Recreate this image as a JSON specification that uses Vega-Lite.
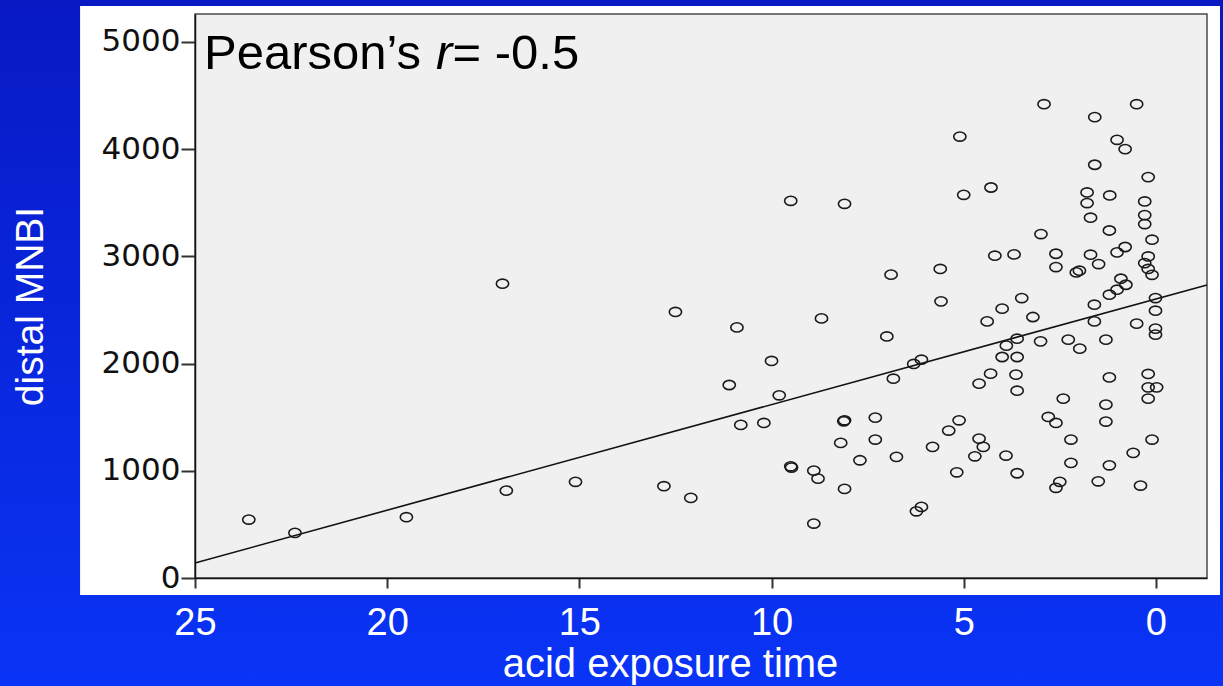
{
  "$schema": "https://vega.github.io/schema/vega-lite/v6.json",
  "width": 1012,
  "height": 564,
  "autosize": {"type": "none"},
  "padding": {"left": 195, "top": 14, "right": 16, "bottom": 108},
  "background": "#0a28e0",
  "config": {"view": {"stroke": null}},
  "resolve": {"axis": {"x": "independent", "y": "independent"}},
  "layer": [
    {
      "data": {"values": [{}]},
      "mark": {"type": "rect", "fill": {"gradient": "linear", "x1": 0, "y1": 0, "x2": 0, "y2": 1, "stops": [{"offset": 0, "color": "#0819c4"}, {"offset": 1, "color": "#0a34f6"}]}},
      "encoding": {
        "x": {"datum": 30.2, "type": "quantitative", "scale": {"domain": [-1.33, 25], "reverse": true, "nice": false, "zero": false}, "axis": null},
        "x2": {"datum": -1.8},
        "y": {"datum": -1010, "type": "quantitative", "scale": {"domain": [0, 5260], "nice": false, "zero": false}, "axis": null},
        "y2": {"datum": 5400}
      }
    },
    {
      "data": {"values": [{}]},
      "mark": {"type": "rect", "fill": "#ffffff"},
      "encoding": {
        "x": {"datum": 27.99, "type": "quantitative", "scale": {"domain": [-1.33, 25], "reverse": true, "nice": false, "zero": false}, "axis": null},
        "x2": {"datum": -1.668},
        "y": {"datum": -158, "type": "quantitative", "scale": {"domain": [0, 5260], "nice": false, "zero": false}, "axis": null},
        "y2": {"datum": 5335}
      }
    },
    {
      "data": {"values": [{}]},
      "mark": {"type": "rect", "fill": "#f0f0f0", "stroke": "#4a4a4a", "strokeWidth": 1.5},
      "encoding": {
        "x": {"datum": 25, "type": "quantitative", "scale": {"domain": [-1.33, 25], "reverse": true, "nice": false, "zero": false}, "axis": null},
        "x2": {"datum": -1.33},
        "y": {"datum": 0, "type": "quantitative", "scale": {"domain": [0, 5260], "nice": false, "zero": false}, "axis": null},
        "y2": {"datum": 5260}
      }
    },
    {
      "data": {"values": [{}]},
      "mark": {"type": "text", "text": "Pearson’s", "font": "Liberation Sans", "fontSize": 49, "color": "#000000", "align": "left", "baseline": "alphabetic"},
      "encoding": {
        "x": {"datum": 24.766, "type": "quantitative", "scale": {"domain": [-1.33, 25], "reverse": true, "nice": false, "zero": false}, "axis": null},
        "y": {"datum": 4745, "type": "quantitative", "scale": {"domain": [0, 5260], "nice": false, "zero": false}, "axis": null}
      }
    },
    {
      "data": {"values": [{}]},
      "mark": {"type": "text", "text": "r", "font": "Liberation Sans", "fontStyle": "italic", "fontSize": 49, "color": "#000000", "align": "left", "baseline": "alphabetic"},
      "encoding": {
        "x": {"datum": 18.73, "type": "quantitative", "scale": {"domain": [-1.33, 25], "reverse": true, "nice": false, "zero": false}, "axis": null},
        "y": {"datum": 4745, "type": "quantitative", "scale": {"domain": [0, 5260], "nice": false, "zero": false}, "axis": null}
      }
    },
    {
      "data": {"values": [{}]},
      "mark": {"type": "text", "text": "= -0.5", "font": "Liberation Sans", "fontSize": 49, "color": "#000000", "align": "left", "baseline": "alphabetic"},
      "encoding": {
        "x": {"datum": 18.30, "type": "quantitative", "scale": {"domain": [-1.33, 25], "reverse": true, "nice": false, "zero": false}, "axis": null},
        "y": {"datum": 4745, "type": "quantitative", "scale": {"domain": [0, 5260], "nice": false, "zero": false}, "axis": null}
      }
    },
    {
      "data": {"values": [{"aet": 25, "mnbi": 140}, {"aet": -1.33, "mnbi": 2733}]},
      "mark": {"type": "line", "color": "#111111", "strokeWidth": 1.6},
      "encoding": {
        "x": {"field": "aet", "type": "quantitative", "scale": {"domain": [-1.33, 25], "reverse": true, "nice": false, "zero": false}, "axis": null},
        "y": {"field": "mnbi", "type": "quantitative", "scale": {"domain": [0, 5260], "nice": false, "zero": false}, "axis": null}
      }
    },
    {
      "data": {"values": [
        {"aet": 23.6, "mnbi": 545}, {"aet": 22.4, "mnbi": 421}, {"aet": 19.5, "mnbi": 567}, {"aet": 17.0, "mnbi": 2745},
        {"aet": 16.9, "mnbi": 815}, {"aet": 15.1, "mnbi": 897},
        {"aet": 12.5, "mnbi": 2481}, {"aet": 10.9, "mnbi": 2337}, {"aet": 8.7, "mnbi": 2421}, {"aet": 7.0, "mnbi": 2253},
        {"aet": 10.0, "mnbi": 2024}, {"aet": 11.1, "mnbi": 1800}, {"aet": 9.8, "mnbi": 1704}, {"aet": 6.83, "mnbi": 1859},
        {"aet": 10.8, "mnbi": 1428}, {"aet": 10.2, "mnbi": 1446}, {"aet": 8.1, "mnbi": 1471}, {"aet": 8.12, "mnbi": 1462},
        {"aet": 7.3, "mnbi": 1496}, {"aet": 8.2, "mnbi": 1260}, {"aet": 7.3, "mnbi": 1291}, {"aet": 7.7, "mnbi": 1098},
        {"aet": 6.75, "mnbi": 1130}, {"aet": 9.5, "mnbi": 1042}, {"aet": 9.48, "mnbi": 1030}, {"aet": 8.9, "mnbi": 1002},
        {"aet": 8.79, "mnbi": 927}, {"aet": 8.1, "mnbi": 831}, {"aet": 12.8, "mnbi": 856}, {"aet": 12.1, "mnbi": 747},
        {"aet": 8.9, "mnbi": 508},
        {"aet": 9.5, "mnbi": 3518}, {"aet": 8.1, "mnbi": 3490}, {"aet": 6.89, "mnbi": 2829},
        {"aet": 6.1, "mnbi": 663}, {"aet": 6.23, "mnbi": 622},
        {"aet": 2.91, "mnbi": 4419}, {"aet": 0.5, "mnbi": 4419}, {"aet": 1.59, "mnbi": 4298}, {"aet": 5.1, "mnbi": 4117},
        {"aet": 1.01, "mnbi": 4087}, {"aet": 0.8, "mnbi": 4000}, {"aet": 1.59, "mnbi": 3854}, {"aet": 0.2, "mnbi": 3739},
        {"aet": 4.29, "mnbi": 3642}, {"aet": 5.0, "mnbi": 3574}, {"aet": 1.79, "mnbi": 3596}, {"aet": 1.2, "mnbi": 3568},
        {"aet": 1.79, "mnbi": 3497}, {"aet": 0.29, "mnbi": 3512}, {"aet": 0.29, "mnbi": 3385}, {"aet": 0.29, "mnbi": 3301},
        {"aet": 1.7, "mnbi": 3360}, {"aet": 1.21, "mnbi": 3241}, {"aet": 2.99, "mnbi": 3208}, {"aet": 0.1, "mnbi": 3155},
        {"aet": 0.8, "mnbi": 3087}, {"aet": 1.01, "mnbi": 3037}, {"aet": 4.19, "mnbi": 3006}, {"aet": 3.69, "mnbi": 3018},
        {"aet": 2.6, "mnbi": 3024}, {"aet": 1.7, "mnbi": 3015}, {"aet": 1.49, "mnbi": 2928}, {"aet": 2.6, "mnbi": 2900},
        {"aet": 2.07, "mnbi": 2850}, {"aet": 1.99, "mnbi": 2866}, {"aet": 0.2, "mnbi": 2999}, {"aet": 0.29, "mnbi": 2937},
        {"aet": 0.2, "mnbi": 2882}, {"aet": 0.1, "mnbi": 2828}, {"aet": 5.61, "mnbi": 2882}, {"aet": 0.91, "mnbi": 2791},
        {"aet": 0.78, "mnbi": 2735}, {"aet": 1.01, "mnbi": 2689}, {"aet": 1.21, "mnbi": 2642}, {"aet": 1.6, "mnbi": 2549},
        {"aet": 0.01, "mnbi": 2611}, {"aet": 0.01, "mnbi": 2493}, {"aet": 0.5, "mnbi": 2372}, {"aet": 1.6, "mnbi": 2393},
        {"aet": 0.01, "mnbi": 2326}, {"aet": 0.01, "mnbi": 2270},
        {"aet": 5.59, "mnbi": 2580}, {"aet": 4.0, "mnbi": 2512}, {"aet": 3.49, "mnbi": 2611}, {"aet": 4.39, "mnbi": 2393},
        {"aet": 3.2, "mnbi": 2434}, {"aet": 3.61, "mnbi": 2232}, {"aet": 3.89, "mnbi": 2167}, {"aet": 3.0, "mnbi": 2207},
        {"aet": 2.28, "mnbi": 2223}, {"aet": 1.98, "mnbi": 2139}, {"aet": 1.3, "mnbi": 2223}, {"aet": 4.0, "mnbi": 2061},
        {"aet": 3.61, "mnbi": 2061}, {"aet": 6.3, "mnbi": 1996}, {"aet": 6.1, "mnbi": 2036}, {"aet": 4.3, "mnbi": 1906},
        {"aet": 3.64, "mnbi": 1897}, {"aet": 4.6, "mnbi": 1813}, {"aet": 3.61, "mnbi": 1747}, {"aet": 1.21, "mnbi": 1871},
        {"aet": 0.2, "mnbi": 1903}, {"aet": 0.2, "mnbi": 1778}, {"aet": -0.02, "mnbi": 1778}, {"aet": 0.2, "mnbi": 1673},
        {"aet": 2.41, "mnbi": 1673}, {"aet": 1.3, "mnbi": 1617}, {"aet": 1.3, "mnbi": 1459}, {"aet": 2.8, "mnbi": 1502},
        {"aet": 2.6, "mnbi": 1446}, {"aet": 5.12, "mnbi": 1471}, {"aet": 5.39, "mnbi": 1375}, {"aet": 4.6, "mnbi": 1300},
        {"aet": 4.49, "mnbi": 1223}, {"aet": 4.71, "mnbi": 1135}, {"aet": 5.81, "mnbi": 1223}, {"aet": 3.9, "mnbi": 1142},
        {"aet": 2.21, "mnbi": 1291}, {"aet": 2.21, "mnbi": 1074}, {"aet": 1.21, "mnbi": 1051}, {"aet": 0.59, "mnbi": 1167},
        {"aet": 0.1, "mnbi": 1291}, {"aet": 5.18, "mnbi": 986}, {"aet": 3.61, "mnbi": 977}, {"aet": 2.5, "mnbi": 897},
        {"aet": 2.6, "mnbi": 841}, {"aet": 1.5, "mnbi": 902}, {"aet": 0.4, "mnbi": 862}
      ]},
      "mark": {"type": "point", "shape": "M-1,0A1,0.75 0 1,0 1,0A1,0.75 0 1,0 -1,0Z", "filled": false, "stroke": "#1a1a1a", "strokeWidth": 1.6, "size": 150, "opacity": 1},
      "encoding": {
        "x": {
          "field": "aet", "type": "quantitative",
          "scale": {"domain": [-1.33, 25], "reverse": true, "nice": false, "zero": false},
          "axis": {
            "values": [0, 5, 10, 15, 20, 25], "grid": false, "zindex": 1,
            "labelFont": "Liberation Sans", "labelFontSize": 38, "labelColor": "#ffffff", "labelPadding": 16,
            "labelFlush": false, "labelOverlap": false,
            "tickSize": 10, "tickColor": "#333333", "tickWidth": 2,
            "domainColor": "#111111", "domainWidth": 1.5,
            "title": "acid exposure time", "titleFont": "Liberation Sans", "titleFontSize": 40, "titleFontWeight": "normal",
            "titleColor": "#ffffff", "titleX": 475, "titleY": 98, "titleAlign": "center", "titleBaseline": "alphabetic"
          }
        },
        "y": {
          "field": "mnbi", "type": "quantitative",
          "scale": {"domain": [0, 5260], "nice": false, "zero": false},
          "axis": {
            "values": [0, 1000, 2000, 3000, 4000, 5000], "format": "d", "grid": false, "zindex": 1,
            "labelFont": "DejaVu Sans", "labelFontSize": 31, "labelColor": "#111111", "labelPadding": 1,
            "labelFlush": false, "labelOverlap": false,
            "tickSize": 14, "tickColor": "#333333", "tickWidth": 2,
            "domainColor": "#111111", "domainWidth": 1.5,
            "title": "distal MNBI", "titleFont": "Liberation Sans", "titleFontSize": 39, "titleFontWeight": "normal",
            "titleColor": "#ffffff", "titleAngle": 270, "titleX": -153, "titleY": 292, "titleAlign": "center", "titleBaseline": "alphabetic"
          }
        }
      }
    }
  ]
}
